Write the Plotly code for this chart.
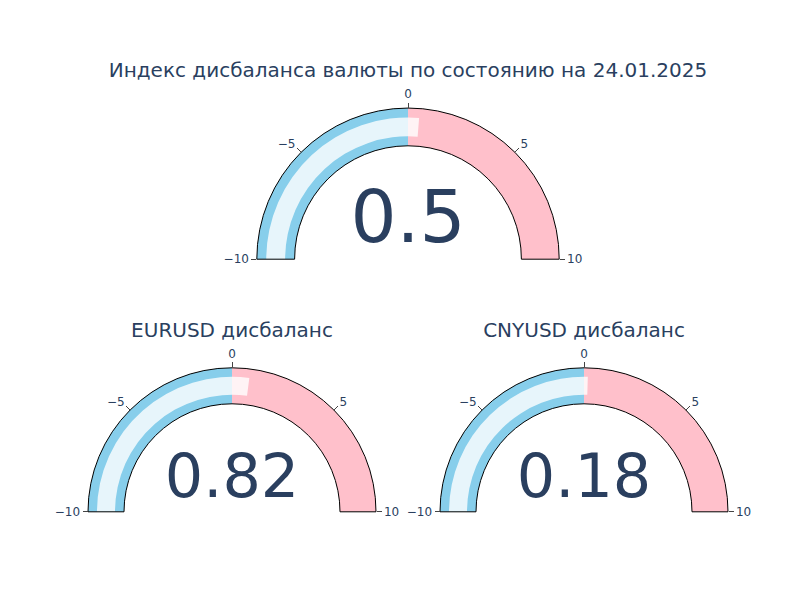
import plotly.graph_objects as go

titles = ["Индекс дисбаланса валюты по состоянию на 24.01.2025", "EURUSD дисбаланс", "CNYUSD дисбаланс"]
values = [0.5, 0.82, 0.18]
domains = [
    dict(x=[0.25, 0.75], y=[0.64, 1]),
    dict(x=[0, 0.45], y=[0, 0.42]),
    dict(x=[0.55, 1], y=[0, 0.42]),
]
axis_range = [-10, 10]
steps = [dict(range=[-10, 0], color="skyblue"), dict(range=[0, 10], color="pink")]

fig = go.Figure()
for t, v, d in zip(titles, values, domains):
    fig.add_trace(go.Indicator(
        mode="gauge+number",
        value=v,
        title=dict(text=t, font=dict(size=20)),
        domain=d,
        gauge=dict(
            axis=dict(range=axis_range),
            bar=dict(color="rgba(255,255,255,0.8)"),
            steps=steps,
            borderwidth=1,
            bordercolor="black",
        ),
    ))

fig.update_layout(width=800, height=600, paper_bgcolor="white",
                  font=dict(family="DejaVu Sans"))
fig.write_html("out.html")
